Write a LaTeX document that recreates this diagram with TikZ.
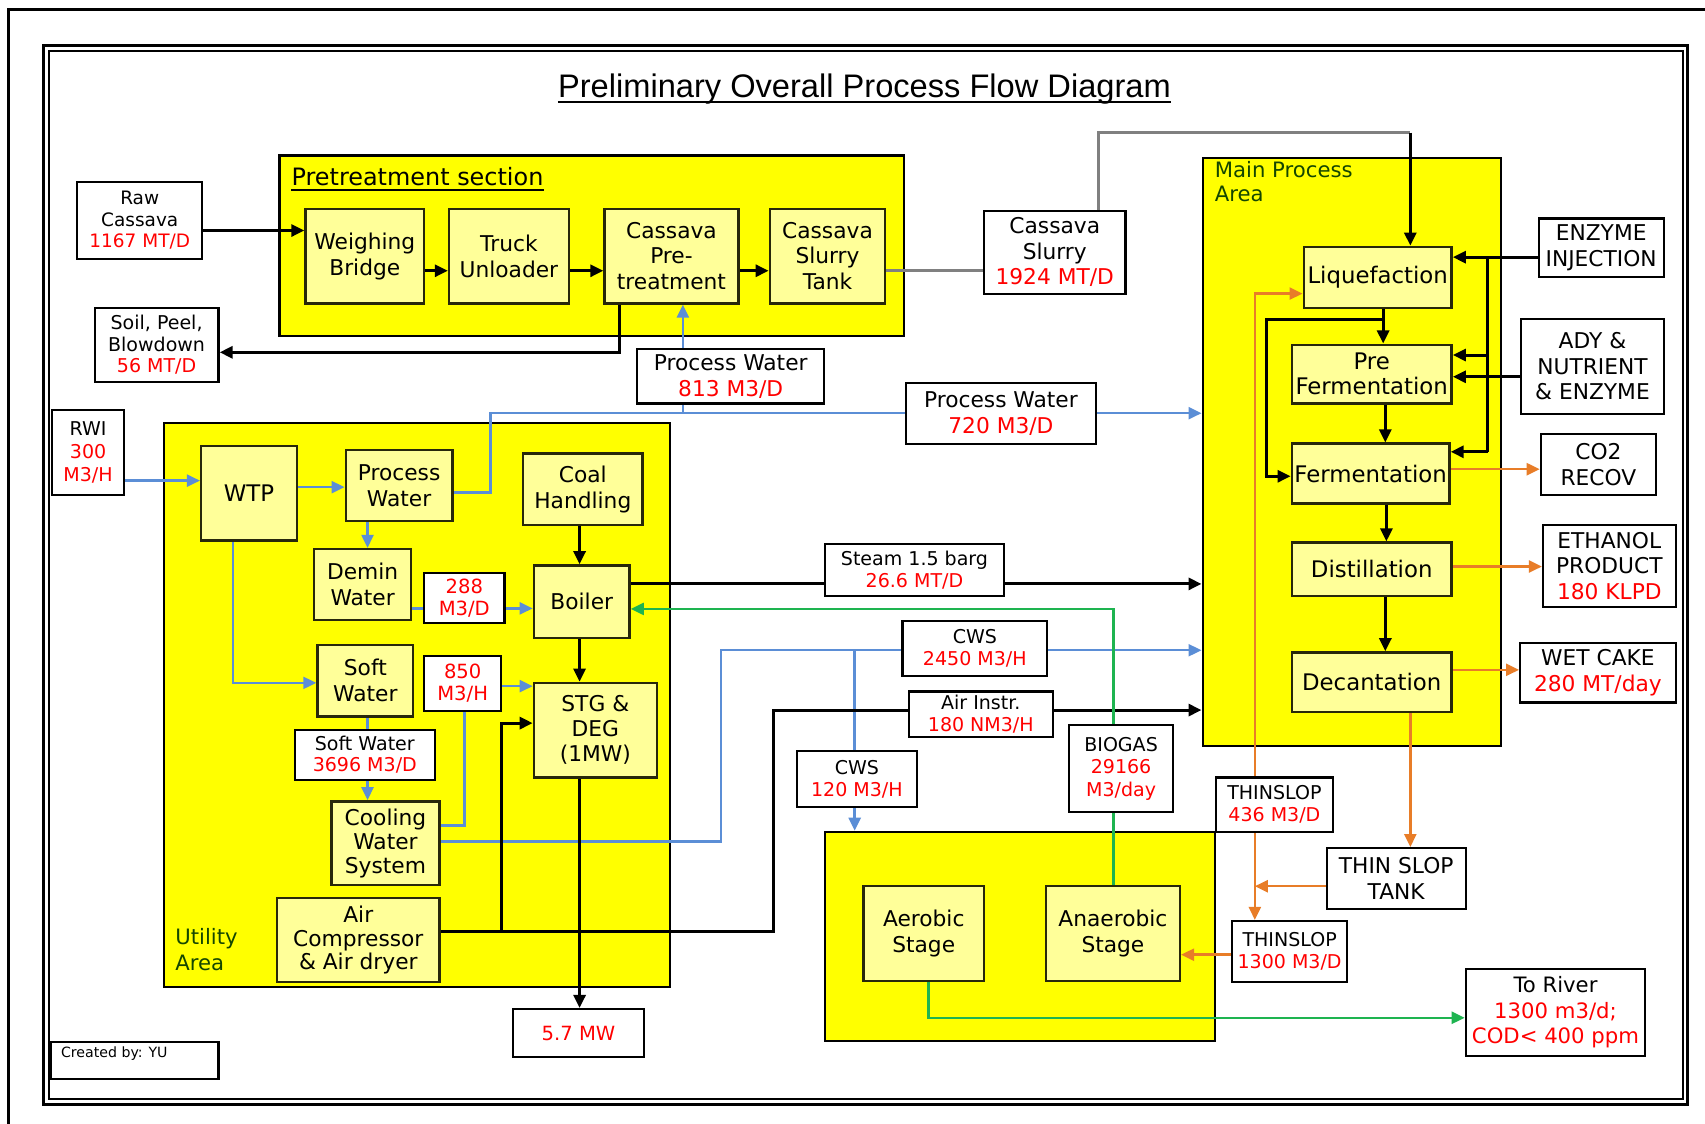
\documentclass[tikz,border=0pt]{standalone}
\usepackage{fontspec}
\setmainfont{DejaVu Sans}
\newfontfamily\titlefont{Liberation Sans}
\usetikzlibrary{arrows.meta}
\pgfdeclarelayer{bg}
\pgfdeclarelayer{lines}
\pgfsetlayers{bg,lines,main}
\definecolor{areaY}{RGB}{255,255,0}
\definecolor{unitY}{RGB}{255,255,153}
\definecolor{unitB}{RGB}{40,40,10}
\definecolor{flowB}{RGB}{91,142,214}
\definecolor{flowO}{RGB}{232,125,40}
\definecolor{flowG}{RGB}{30,180,80}
\definecolor{txtR}{RGB}{255,0,0}
\definecolor{areaT}{RGB}{20,70,0}
\definecolor{lineGr}{RGB}{128,128,128}
\newcommand{\fs}[2]{\fontsize{#1}{#2}\selectfont}
\newcommand{\rd}[1]{\textcolor{txtR}{#1}}
\begin{document}
\begin{tikzpicture}[x=1pt,y=-1pt,
 zArea/.style={draw=black,line width=2pt,fill=areaY,inner sep=0pt},
 zUnit/.style={draw=unitB,line width=2.2pt,fill=unitY,align=center,inner sep=0pt,font=\fs{20}{24}},
 zMUnit/.style={zUnit,font=\fs{21}{23}},
 zLab/.style={draw=black,line width=2pt,fill=white,align=center,inner sep=0pt,font=\fs{17.5}{20}},
 zRLab/.style={zLab,font=\fs{20}{23.5}},
 zK/.style={line width=2.8pt,draw=black},
 zB/.style={line width=2.2pt,draw=flowB},
 zO/.style={line width=2.3pt,draw=flowO},
 zG/.style={line width=2.3pt,draw=flowG},
 zGr/.style={line width=2.8pt,draw=lineGr},
 arw/.style={-{Triangle[length=12pt,width=11pt]}},
]
\useasboundingbox (0,0) rectangle (1568,1033);
\begin{pgfonlayer}{bg}
\fill[white] (0,0) rectangle (1568,1033);
\draw[line width=3pt] (8,1050) -- (8,9) -- (1590,9);
\draw[line width=2.6pt] (40,41.5) rectangle (1552,1016);
\draw[line width=1.6pt] (45,47) rectangle (1547.5,1011);
\node[zArea, minimum width=574pt, minimum height=166pt] (preA) at (544,226) {};
\node[zArea, minimum width=274pt, minimum height=541pt] (mainA) at (1243,415.5) {};
\node[zArea, minimum width=465pt, minimum height=519pt] (utilA) at (383.5,648.5) {};
\node[zArea, minimum width=358pt, minimum height=192pt] (wwtA) at (938,861) {};
\end{pgfonlayer}

% title
\node[font=\titlefont\fs{30}{34}, inner sep=0pt, anchor=base] (title) at (795,90) {Preliminary Overall Process Flow Diagram};
\draw[line width=1.8pt] ([yshift=-4pt]title.base west) -- ([yshift=-4pt]title.base east);
\node[font=\fs{22}{26}, inner sep=0pt, anchor=base west] (preT) at (268,171) {Pretreatment section};
\draw[line width=1.5pt] ([yshift=-4pt]preT.base west) -- ([yshift=-4pt]preT.base east);
\node[font=\fs{19.5}{22}, text=areaT, align=left, anchor=north west, inner sep=0pt] (mainT) at (1117,148) {Main Process\\Area};
\node[font=\fs{19.5}{24}, text=areaT, align=left, anchor=west, inner sep=0pt] (utilT) at (161,873) {Utility\\Area};

% pretreatment
\node[zLab,font=\fs{17}{19.5}, minimum width=115pt, minimum height=71pt] (raw) at (128.5,202.5) {Raw\\Cassava\\\rd{1167 MT/D}};
\node[zUnit, minimum width=109pt, minimum height=87pt] (weigh) at (335.5,235.5) {Weighing\\Bridge};
\node[zUnit, minimum width=110pt, minimum height=87pt] (truck) at (468,235.5) {Truck\\Unloader};
\node[zUnit, font=\fs{20}{23}, minimum width=123pt, minimum height=87pt] (cpre) at (617.5,235.5) {Cassava\\Pre-\\treatment};
\node[zUnit, font=\fs{20}{23}, minimum width=106pt, minimum height=87pt] (tank) at (761,235.5) {Cassava\\Slurry\\Tank};
\node[zLab, font=\fs{20}{23.5}, minimum width=130pt, minimum height=76pt] (slurry) at (970,232) {Cassava\\Slurry\\\rd{1924 MT/D}};
\node[zLab, minimum width=114pt, minimum height=68pt] (soil) at (144,317) {Soil, Peel,\\Blowdown\\\rd{56 MT/D}};
\node[zLab, font=\fs{20}{24}, minimum width=172pt, minimum height=50pt] (pw813) at (672,346) {Process Water\\\rd{813 M3/D}};
\node[zLab, font=\fs{20}{24}, minimum width=175pt, minimum height=56pt] (pw720) at (920.5,380) {Process Water\\\rd{720 M3/D}};

% main process
\node[zMUnit, minimum width=136pt, minimum height=56pt] (liq) at (1267,255) {Liquefaction};
\node[zMUnit, minimum width=147pt, minimum height=54pt] (pref) at (1261.5,344) {Pre\\Fermentation};
\node[zMUnit, minimum width=145pt, minimum height=55pt] (ferm) at (1260.5,435.5) {Fermentation};
\node[zMUnit, minimum width=147pt, minimum height=49pt] (dist) at (1261.5,523.5) {Distillation};
\node[zMUnit, minimum width=147pt, minimum height=55pt] (dec) at (1261.5,627.5) {Decantation};
\node[zRLab, minimum width=115pt, minimum height=54pt] (enz) at (1472.5,228) {ENZYME\\INJECTION};
\node[zRLab, minimum width=131pt, minimum height=88pt] (ady) at (1464.5,337) {ADY \&\\NUTRIENT\\\& ENZYME};
\node[zRLab, minimum width=106pt, minimum height=56pt] (co2) at (1470,427) {CO2\\RECOV};
\node[zRLab, minimum width=122pt, minimum height=75pt] (eth) at (1480,520.5) {ETHANOL\\PRODUCT\\\rd{180 KLPD}};
\node[zRLab, minimum width=143pt, minimum height=55pt] (wet) at (1469.5,618.5) {WET CAKE\\\rd{280 MT/day}};

% thinslop and WWT
\node[zLab, minimum width=108pt, minimum height=50pt] (ts436) at (1172,740) {THINSLOP\\\rd{436 M3/D}};
\node[zRLab, minimum width=128pt, minimum height=56pt] (tank2) at (1284,808) {THIN SLOP\\TANK};
\node[zLab, minimum width=106pt, minimum height=56pt] (ts1300) at (1186,875) {THINSLOP\\\rd{1300 M3/D}};
\node[zUnit, minimum width=111pt, minimum height=87pt] (aer) at (849.5,858.5) {Aerobic\\Stage};
\node[zUnit, minimum width=123pt, minimum height=87pt] (anaer) at (1023.5,858.5) {Anaerobic\\Stage};
\node[zRLab, font=\fs{19.5}{23.5}, minimum width=165pt, minimum height=80pt] (river) at (1430.5,931) {To River\\\rd{1300 m3/d;}\\\rd{COD< 400 ppm}};
\node[zLab, font=\fs{17.5}{21}, minimum width=96pt, minimum height=80pt] (biogas) at (1031,707) {BIOGAS\\\rd{29166}\\\rd{M3/day}};

% utility
\node[zUnit, font=\fs{21}{24}, minimum width=88pt, minimum height=87pt] (wtp) at (229,453.5) {WTP};
\node[zUnit, minimum width=98pt, minimum height=65pt] (procw) at (367,446.5) {Process\\Water};
\node[zUnit, minimum width=110pt, minimum height=66pt] (coal) at (536,450) {Coal\\Handling};
\node[zUnit, minimum width=89pt, minimum height=65pt] (demin) at (333.5,537.5) {Demin\\Water};
\node[zLab, font=\fs{18}{20}, minimum width=74pt, minimum height=46pt] (l288) at (427,550) {\rd{288}\\\rd{M3/D}};
\node[zUnit, minimum width=88pt, minimum height=67pt] (boiler) at (535,553.5) {Boiler};
\node[zUnit, minimum width=88pt, minimum height=66pt] (soft) at (336,626) {Soft\\Water};
\node[zLab, font=\fs{18}{20}, minimum width=71pt, minimum height=51pt] (l850) at (425.5,628.5) {\rd{850}\\\rd{M3/H}};
\node[zUnit, font=\fs{20}{23}, minimum width=113pt, minimum height=87pt] (stg) at (547.5,671.5) {STG \&\\DEG\\(1MW)};
\node[zLab, minimum width=129pt, minimum height=46pt] (l3696) at (335.5,694) {Soft Water\\\rd{3696 M3/D}};
\node[zUnit, font=\fs{20}{22}, minimum width=99pt, minimum height=77pt] (cool) at (354.5,775.5) {Cooling\\Water\\System};
\node[zUnit, font=\fs{20}{22}, minimum width=149pt, minimum height=77pt] (airc) at (329.5,864.5) {Air\\Compressor\\\& Air dryer};
\node[zLab, font=\fs{17.5}{21.5}, minimum width=66pt, minimum height=78pt] (rwi) at (81,416) {RWI\\\rd{300}\\\rd{M3/H}};
\node[zLab, font=\fs{18}{20}, minimum width=120pt, minimum height=44pt] (mw) at (532,950) {\rd{5.7 MW}};
\node[zLab, minimum width=164pt, minimum height=48pt] (steam) at (841,524) {Steam 1.5 barg\\\rd{26.6 MT/D}};
\node[zLab, minimum width=133pt, minimum height=51pt] (cws1) at (896.5,596.5) {CWS\\\rd{2450 M3/H}};
\node[zLab, minimum width=132pt, minimum height=42pt] (airi) at (902,657) {Air Instr.\\\rd{180 NM3/H}};
\node[zLab, minimum width=110pt, minimum height=51pt] (cws2) at (788,716.5) {CWS\\\rd{120 M3/H}};
\node[zLab, minimum width=154pt, minimum height=34pt] (created) at (124,975) {};
\node[font=\fs{13}{15}, anchor=north west, inner sep=0pt] (createdT) at (56,962) {Created by: YU};

% junctions
\coordinate (sl1) at (1297,122);
\coordinate (bj1) at (451,380);
\coordinate (bj2) at (628,380);
\coordinate (cj1) at (663,598);
\coordinate (cj2) at (786,598);
\coordinate (aj1) at (461,857);
\coordinate (aj2) at (711,857);
\coordinate (oj) at (1154,815);
\coordinate (oj2) at (1154,270);
\coordinate (lp) at (1272,294);
\coordinate (lp2) at (1165,294);
\coordinate (ev1) at (1368,236.5);
\coordinate (ev2) at (1368,326.5);
\coordinate (ev3) at (1368,415.5);

\begin{pgfonlayer}{lines}
% pretreatment
\draw[zK,arw] (raw.east |- 0,212) -- (weigh.west |- 0,212);
\draw[zK,arw] (weigh.east |- 0,249) -- (truck.west |- 0,249);
\draw[zK,arw] (truck.east |- 0,249) -- (cpre.west |- 0,249);
\draw[zK,arw] (cpre.east |- 0,249) -- (tank.west |- 0,249);
\draw[zGr] (tank.east |- 0,249) -- (slurry.west |- 0,249);
\draw[zGr] (slurry.north -| 1010,0) |- (sl1);
\draw[zK,arw] (sl1) -- (liq.north -| sl1);
\draw[zK,arw] (cpre.south -| 570,0) |- (soil.east |- 0,324);
% water
\draw[zB,arw] (procw.east |- 0,453) -| (bj1) -- (mainA.west |- bj1);
\draw[zB,arw] (bj2) -- (cpre.south -| bj2);
\draw[zB,arw] (rwi.east |- 0,442) -- (wtp.west |- 0,442);
\draw[zB,arw] (wtp.east |- 0,448) -- (procw.west |- 0,448);
\draw[zB,arw] (procw.south -| 338,0) -- (demin.north -| 338,0);
\draw[zB,arw] (wtp.south -| 214,0) |- (soft.west |- 0,628);
\draw[zB,arw] (demin.east |- 0,559.5) -- (boiler.west |- 0,559.5);
\draw[zB,arw] (soft.south -| 338,0) -- (cool.north -| 338,0);
\draw[zB,arw] (cool.east |- 0,759) -| (427,631) -- (stg.west |- 0,631);
\draw[zB,arw] (cool.east |- 0,774) -| (cj1) -- (mainA.west |- cj1);
\draw[zB,arw] (cj2) -- (wwtA.north -| cj2);
% power and steam
\draw[zK,arw] (coal.south -| 533,0) -- (boiler.north -| 533,0);
\draw[zK,arw] (boiler.south -| 533,0) -- (stg.north -| 533,0);
\draw[zK,arw] (stg.south -| 533,0) -- (mw.north -| 533,0);
\draw[zK,arw] (boiler.east |- 0,537) -- (mainA.west |- 0,537);
\draw[zK,arw] (airc.east |- aj1) -- (aj1) |- (stg.west |- 0,665);
\draw[zK,arw] (aj1) -- (aj2) |- (mainA.west |- 0,653);
% green
\draw[zG,arw] (anaer.north -| 1024,0) |- (boiler.east |- 0,560);
\draw[zG,arw] (aer.south -| 854,0) |- (river.west |- 0,936);
% orange
\draw[zO,arw] (tank2.west |- oj) -- (oj);
\draw[zO,arw] (oj) -- (oj2) -- (liq.west |- oj2);
\draw[zO,arw] (oj) -- (ts1300.north -| oj);
\draw[zO,arw] (dec.south -| 1297,0) -- (tank2.north -| 1297,0);
\draw[zO,arw] (ts1300.west |- 0,878) -- (anaer.east |- 0,878);
\draw[zO,arw] (ferm.east |- 0,431.5) -- (co2.west |- 0,431.5);
\draw[zO,arw] (dist.east |- 0,521) -- (eth.west |- 0,521);
\draw[zO,arw] (dec.east |- 0,616) -- (wet.west |- 0,616);
% main process
\draw[zK,arw] (liq.south -| 1272,0) -- (pref.north -| 1272,0);
\draw[zK,arw] (pref.south -| 1274,0) -- (ferm.north -| 1274,0);
\draw[zK,arw] (ferm.south -| 1275,0) -- (dist.north -| 1275,0);
\draw[zK,arw] (dist.south -| 1274,0) -- (dec.north -| 1274,0);
\draw[zK,arw] (lp) -- (lp2) |- (ferm.west |- 0,438);
\draw[zK,arw] (enz.west |- ev1) -- (liq.east |- ev1);
\draw[zK] (ev1) -- (ev3);
\draw[zK,arw] (ev2) -- (pref.east |- ev2);
\draw[zK,arw] (ev3) -- (ferm.east |- ev3);
\draw[zK,arw] (ady.west |- 0,346.5) -- (pref.east |- 0,346.5);
\end{pgfonlayer}
\end{tikzpicture}
\end{document}
